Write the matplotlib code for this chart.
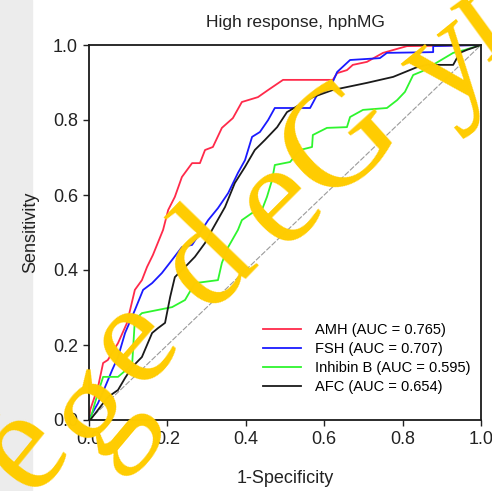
import matplotlib
matplotlib.use("Agg")
import matplotlib.pyplot as plt
from matplotlib.patches import Rectangle

# ROC curves (1-specificity, sensitivity)
amh_fpr = [0, 0.003, 0.023, 0.036, 0.048, 0.074, 0.097, 0.117, 0.135, 0.148, 0.163, 0.189,
           0.202, 0.219, 0.237, 0.263, 0.283, 0.296, 0.316, 0.339, 0.367, 0.39, 0.431,
           0.457, 0.495, 0.622, 0.633, 0.658, 0.673, 0.709, 0.75, 0.811, 1.0]
amh_tpr = [0, 0.027, 0.088, 0.152, 0.16, 0.205, 0.259, 0.347, 0.373, 0.408, 0.44, 0.507,
           0.56, 0.595, 0.648, 0.685, 0.685, 0.72, 0.728, 0.779, 0.805, 0.848, 0.861,
           0.88, 0.907, 0.907, 0.925, 0.933, 0.947, 0.955, 0.979, 0.997, 1.0]

fsh_fpr = [0, 0.003, 0.023, 0.041, 0.059, 0.074, 0.092, 0.117, 0.138, 0.161, 0.186, 0.212,
           0.237, 0.263, 0.283, 0.304, 0.329, 0.355, 0.38, 0.398, 0.416, 0.436, 0.457,
           0.474, 0.564, 0.582, 0.615, 0.633, 0.666, 0.742, 0.76, 0.878, 0.878, 1.0]
fsh_tpr = [0, 0.008, 0.045, 0.088, 0.133, 0.168, 0.232, 0.293, 0.347, 0.365, 0.392, 0.427,
           0.461, 0.467, 0.499, 0.533, 0.565, 0.605, 0.659, 0.693, 0.755, 0.768, 0.8,
           0.832, 0.832, 0.867, 0.885, 0.928, 0.96, 0.965, 0.979, 0.981, 0.997, 1.0]

inh_fpr = [0, 0.003, 0.015, 0.023, 0.036, 0.074, 0.11, 0.117, 0.135, 0.212, 0.245, 0.27,
           0.329, 0.339, 0.355, 0.38, 0.39, 0.416, 0.441, 0.454, 0.467, 0.474, 0.513,
           0.538, 0.569, 0.571, 0.607, 0.658, 0.666, 0.699, 0.76, 0.786, 0.806, 0.827,
           0.85, 0.929, 0.959, 1.0]
inh_tpr = [0, 0, 0.045, 0.072, 0.115, 0.115, 0.147, 0.267, 0.285, 0.301, 0.32, 0.365,
           0.373, 0.419, 0.461, 0.507, 0.533, 0.552, 0.56, 0.595, 0.64, 0.68, 0.688,
           0.72, 0.728, 0.76, 0.779, 0.781, 0.808, 0.827, 0.832, 0.853, 0.875, 0.92,
           0.93, 0.979, 0.987, 1.0]

afc_fpr = [0, 0.003, 0.023, 0.048, 0.074, 0.092, 0.11, 0.135, 0.161, 0.176, 0.194, 0.207,
           0.219, 0.245, 0.27, 0.296, 0.314, 0.347, 0.372, 0.398, 0.423, 0.449, 0.48,
           0.505, 0.571, 0.622, 0.709, 0.776, 0.837, 0.862, 0.929, 0.946, 0.964, 1.0]
afc_tpr = [0, 0, 0.027, 0.061, 0.08, 0.112, 0.141, 0.168, 0.232, 0.245, 0.259, 0.328,
           0.381, 0.408, 0.435, 0.472, 0.507, 0.568, 0.632, 0.675, 0.72, 0.747, 0.781,
           0.821, 0.861, 0.88, 0.899, 0.915, 0.941, 0.947, 0.947, 0.979, 0.987, 1.0]

labels = ["AMH (AUC = 0.765)", "FSH (AUC = 0.707)", "Inhibin B (AUC = 0.595)", "AFC (AUC = 0.654)"]
colors = ["#ff2a4a", "#1a1aff", "#2ef52e", "#1a1a1a"]
ticks = [0.0, 0.2, 0.4, 0.6, 0.8, 1.0]

plt.rcParams["font.family"] = ["Liberation Sans", "DejaVu Sans"]

fig = plt.figure(figsize=(4.92, 4.91), dpi=100)
# light grey strip down the left edge of the scan
fig.patches.append(Rectangle((0, 0), 0.065, 1, transform=fig.transFigure,
                             color="#ececec", zorder=-5))

ax = fig.add_axes([89 / 492, 1 - 420 / 491, 392 / 492, 375 / 491])

# chance line
ax.plot([0, 1], [0, 1], color="#9a9a9a", lw=0.8, ls=(0, (5, 1.5)), zorder=1)

curves = [(amh_fpr, amh_tpr), (fsh_fpr, fsh_tpr), (inh_fpr, inh_tpr), (afc_fpr, afc_tpr)]
for (fx, fy), c, lab in zip(curves, colors, labels):
    ax.plot(fx, fy, color=c, lw=1.3, label=lab, zorder=2)

ax.set_xlim(0, 1)
ax.set_ylim(0, 1)
ax.set_xticks(ticks)
ax.set_yticks(ticks)
ax.set_xticklabels([f"{t:.1f}" for t in ticks])
ax.set_yticklabels([f"{t:.1f}" for t in ticks])
ax.tick_params(direction="out", length=4, width=1, labelsize=13, colors="#222222", pad=4)
for s in ax.spines.values():
    s.set_linewidth(1.3)
    s.set_color("#1a1a1a")

ax.set_xlabel("1-Specificity", fontsize=13, color="#222222", labelpad=16)
ax.set_ylabel("Sensitivity", fontsize=13, color="#222222", labelpad=10)
fig.text(295 / 492, 1 - 22 / 491, "High response, hphMG", ha="center", va="center",
         fontsize=12.5, color="#222222")

ax.legend(loc="lower right", bbox_to_anchor=(1.0, 0.041), frameon=False, fontsize=10.5,
          handlelength=2.6, labelspacing=0.35, handletextpad=1.0, borderaxespad=0.3)

# yellow watermark laid along a shallow arc
wm_chars = ["l", "è", "g", "e", "d", "e", "G", "y", "n"]
wm_x = [-15, 25, 98, 134, 208, 280, 342, 448, 495]
wm_y = [505, 450, 412, 343, 262, 203, 142, 66, 12]
wm_rot = [52, 51, 50, 49, 46, 45, 42, 39, 36]
for ch, px, py, r in zip(wm_chars, wm_x, wm_y, wm_rot):
    fig.text(px / 492, 1 - py / 491, ch, fontsize=106, family="Liberation Serif",
             color="#ffcc00", ha="center", va="center", rotation=r,
             rotation_mode="anchor", zorder=10)

fig.savefig("out.png", dpi=100)
